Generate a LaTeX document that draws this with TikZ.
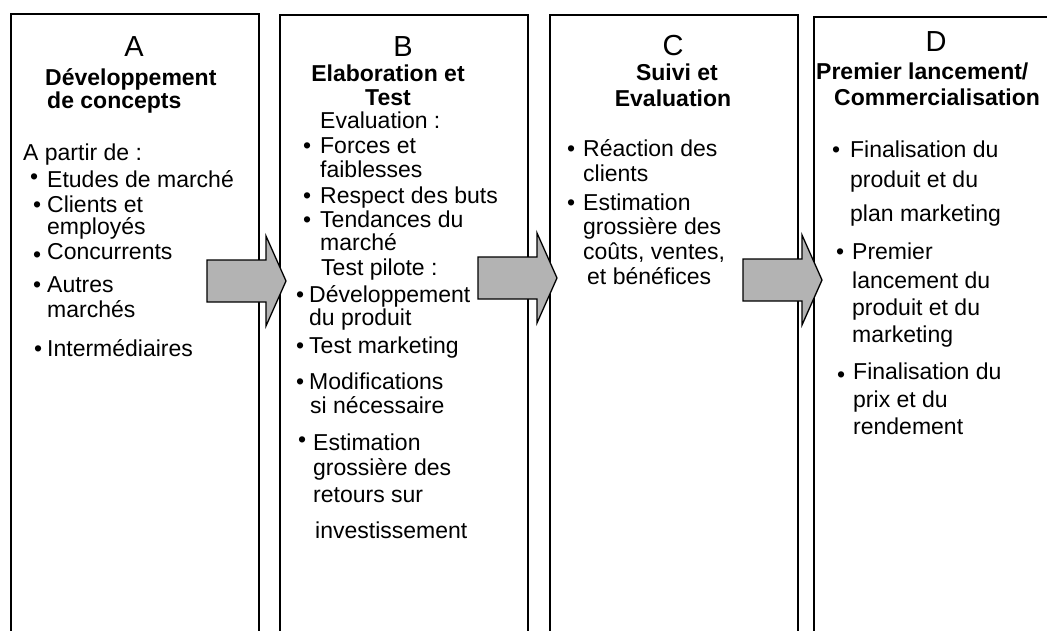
\documentclass[tikz,border=0pt]{standalone}
\usepackage{fontspec}
\setmainfont{Liberation Sans}
\definecolor{arrowgray}{RGB}{179,179,179}
\newcommand\bu[2]{\llap{\raisebox{#2}{•}\hspace{#1}}}
\tikzset{
  stage/.style={draw=black, line width=2pt, minimum width=248pt, minimum height=660pt, inner sep=0pt, anchor=north west},
  txt/.style={inner sep=0pt, anchor=base west, font=\fontsize{23}{24}\selectfont},
  ttl/.style={inner sep=0pt, font=\fontsize{23}{24}\selectfont\bfseries},
  big/.style={inner sep=0pt, anchor=base, font=\fontsize{29}{30}\selectfont},
  blockarrow/.style={draw=black, line width=1.3pt, fill=arrowgray, line join=miter},
  bigarrow/.pic={\draw[blockarrow] (-39,-21) -- (20,-21) -- (20,-45) -- (40,0) -- (20,45) -- (20,21) -- (-39,21) -- cycle;}
}
\begin{document}
\begin{tikzpicture}[x=1pt, y=-1pt]
\useasboundingbox (0,0) rectangle (1047,630);
\clip (0,0) rectangle (1047,630);
% stage boxes
\node[stage] (boxA) at (10,13) {};
\node[stage] (boxB) at (279,14) {};
\node[stage] (boxC) at (549,14) {};
\node[stage] (boxD) at (813,16) {};
% Box A
\node[big] (la) at (134,56) {A};
\node[ttl, anchor=base west] (a1) at (45,85) {Développement};
\node[ttl, anchor=base west] (a2) at (47,108) {de concepts};
\node[txt] (a3) at (23,160) {A partir de :};
\node[txt] (a4) at (47,187) {\bu{9pt}{3pt}Etudes de marché};
\node[txt] (a5) at (47,212) {\bu{6pt}{0pt}Clients et};
\node[txt] (a6) at (47,234) {employés};
\node[txt] (a7) at (47,259) {\bu{6pt}{-3pt}Concurrents};
\node[txt] (a8) at (47,292) {\bu{6pt}{0pt}Autres};
\node[txt] (a9) at (47,317) {marchés};
\node[txt] (a10) at (47,356) {\bu{5pt}{0pt}Intermédiaires};
% Box B
\node[big] (lb) at (403,56) {B};
\node[ttl, anchor=base] (b1) at (388,81) {Elaboration et};
\node[ttl, anchor=base] (b2) at (388,105) {Test};
\node[txt] (b3) at (320,128) {Evaluation :};
\node[txt] (b4) at (320,153) {\bu{9pt}{0pt}Forces et};
\node[txt] (b5) at (320,177) {faiblesses};
\node[txt] (b6) at (320,203) {\bu{9pt}{0pt}Respect des buts};
\node[txt] (b7) at (320,227) {\bu{9pt}{0pt}Tendances du};
\node[txt] (b8) at (320,250) {marché};
\node[txt] (b9) at (321,275) {Test pilote :};
\node[txt] (b10) at (309,302) {\bu{5pt}{0pt}Développement};
\node[txt] (b11) at (309,325) {du produit};
\node[txt] (b12) at (309,353) {\bu{5pt}{0pt}Test marketing};
\node[txt] (b13) at (309,389) {\bu{5pt}{0pt}Modifications};
\node[txt] (b14) at (310,413) {si nécessaire};
\node[txt] (b15) at (313,450) {\bu{7pt}{3pt}Estimation};
\node[txt] (b16) at (313,475) {grossière des};
\node[txt] (b17) at (313,502) {retours sur};
\node[txt] (b18) at (315,538) {investissement};
% Box C
\node[big] (lc) at (673,55) {C};
\node[ttl, anchor=base] (c1) at (677,80) {Suivi et};
\node[ttl, anchor=base] (c2) at (673,106) {Evaluation};
\node[txt] (c3) at (583,156) {\bu{8pt}{0pt}Réaction des};
\node[txt] (c4) at (583,181) {clients};
\node[txt] (c5) at (583,210) {\bu{8pt}{0pt}Estimation};
\node[txt] (c6) at (583,234) {grossière des};
\node[txt] (c7) at (583,259) {coûts, ventes,};
\node[txt] (c8) at (587,284) {et bénéfices};
% Box D
\node[big] (ld) at (936,51) {D};
\node[ttl, anchor=base west] (d1) at (816,79) {Premier lancement/};
\node[ttl, anchor=base west] (d2) at (834,105) {Commercialisation};
\node[txt] (d3) at (850,157) {\bu{10pt}{0pt}Finalisation du};
\node[txt] (d4) at (850,187) {produit et du};
\node[txt] (d5) at (850,221) {plan marketing};
\node[txt] (d6) at (852,259) {\bu{8pt}{0pt}Premier};
\node[txt] (d7) at (852,288) {lancement du};
\node[txt] (d8) at (852,315) {produit et du};
\node[txt] (d9) at (852,342) {marketing};
\node[txt] (d10) at (853,379) {\bu{8pt}{-3pt}Finalisation du};
\node[txt] (d11) at (853,407) {prix et du};
\node[txt] (d12) at (853,434) {rendement};
% arrows between stages
\pic at (246,281) {bigarrow};
\pic at (517,278) {bigarrow};
\pic at (782,280) {bigarrow};
\end{tikzpicture}
\end{document}
